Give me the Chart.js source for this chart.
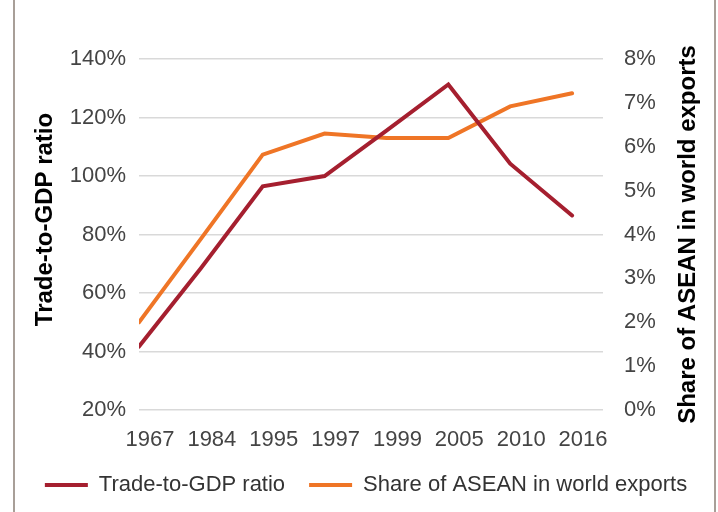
<!DOCTYPE html>
<html>
<head>
<meta charset="utf-8">
<script src="https://cdn.jsdelivr.net/npm/chart.js@4/dist/chart.umd.min.js"></script>
<style>
  html, body { margin: 0; padding: 0; background: #fff; }
  #wrap { position: relative; width: 718px; height: 512px; }
  #wrap::before, #wrap::after {
    content: ""; position: absolute; top: 0; bottom: 0; width: 2px; background: #a89f98;
  }
  #wrap::before { left: 13px; }
  #wrap::after { left: 714px; }
</style>
</head>
<body>
<div id="wrap"><canvas id="chart" width="718" height="512"></canvas></div>
<script>
// ---- data ----
const years = ["1967", "1984", "1995", "1997", "1999", "2005", "2010", "2016"];
const tradeToGdp = [41.7, 68.5, 96.5, 100, 115.5, 131.3, 104.2, 86.5];   // %
const aseanShare = [2.0, 3.9, 5.82, 6.3, 6.2, 6.2, 6.92, 7.22];          // %

const leftTitle = "Trade-to-GDP ratio";
const rightTitle = "Share of ASEAN in world exports";

const RED = "#a51f2f";
const ORANGE = "#ef7526";
const FAMILY = "'Liberation Sans', Arial, sans-serif";
const tickFont = { family: FAMILY, size: 22 };

// points at index positions on a linear x axis
const toPoints = arr => arr.map((v, i) => ({ x: i, y: v }));

// both axis titles read bottom-to-top, so draw them ourselves
function drawUpText(ctx, text, x, y) {
  ctx.save();
  ctx.fillStyle = "#000";
  ctx.font = "bold 24px " + FAMILY;
  ctx.textAlign = "center";
  ctx.textBaseline = "middle";
  ctx.translate(x, y);
  ctx.rotate(-Math.PI / 2);
  ctx.fillText(text, 0, 0);
  ctx.restore();
}

const axisTitles = {
  id: "axisTitles",
  afterDraw(chart) {
    const { ctx, chartArea } = chart;
    const mid = (chartArea.top + chartArea.bottom) / 2;
    drawUpText(ctx, leftTitle, 45, mid - 15);
    drawUpText(ctx, rightTitle, 688, mid);
  }
};

const ctx = document.getElementById("chart").getContext("2d");

new Chart(ctx, {
  type: "line",
  data: {
    datasets: [
      {
        label: "Trade-to-GDP ratio",
        data: toPoints(tradeToGdp),
        borderColor: RED,
        backgroundColor: RED,
        borderWidth: 4,
        pointRadius: 0,
        tension: 0,
        borderCapStyle: "round",
        yAxisID: "y"
      },
      {
        label: "Share of ASEAN in world exports",
        data: toPoints(aseanShare),
        borderColor: ORANGE,
        backgroundColor: ORANGE,
        borderWidth: 4,
        pointRadius: 0,
        tension: 0,
        borderCapStyle: "round",
        yAxisID: "y2"
      }
    ]
  },
  plugins: [axisTitles],
  options: {
    responsive: false,
    animation: false,
    layout: { padding: { top: 59, left: 14, right: 0, bottom: 6 } },
    plugins: {
      tooltip: { enabled: false },
      legend: {
        position: "bottom",
        labels: {
          usePointStyle: true,
          pointStyle: "line",
          pointStyleWidth: 43,
          boxHeight: 10,
          padding: 24,
          color: "#333",
          font: { family: FAMILY, size: 22 }
        }
      }
    },
    scales: {
      x: {
        type: "linear",
        min: 0,
        max: 7.5,
        grid: { display: false },
        border: { display: false },
        afterFit: s => { s.height = 40; },
        ticks: {
          stepSize: 1,
          includeBounds: false,
          autoSkip: false,
          maxRotation: 0,
          padding: 9,
          labelOffset: 11,
          color: "#444",
          font: tickFont,
          callback: v => Number.isInteger(v) ? years[v] : ""
        }
      },
      y: {
        position: "left",
        min: 20,
        max: 140,
        afterFit: s => { s.width = 125; },
        grid: { color: "#d9d9d9", lineWidth: 1.5, drawTicks: false },
        border: { display: false },
        ticks: {
          stepSize: 20,
          padding: 13,
          color: "#444",
          font: tickFont,
          callback: v => v + "%"
        }
      },
      y2: {
        position: "right",
        min: 0,
        max: 8,
        afterFit: s => { s.width = 115; },
        grid: { display: false, drawTicks: false },
        border: { display: false },
        ticks: {
          stepSize: 1,
          padding: 21,
          color: "#444",
          font: tickFont,
          callback: v => v + "%"
        }
      }
    }
  }
});
</script>
</body>
</html>
